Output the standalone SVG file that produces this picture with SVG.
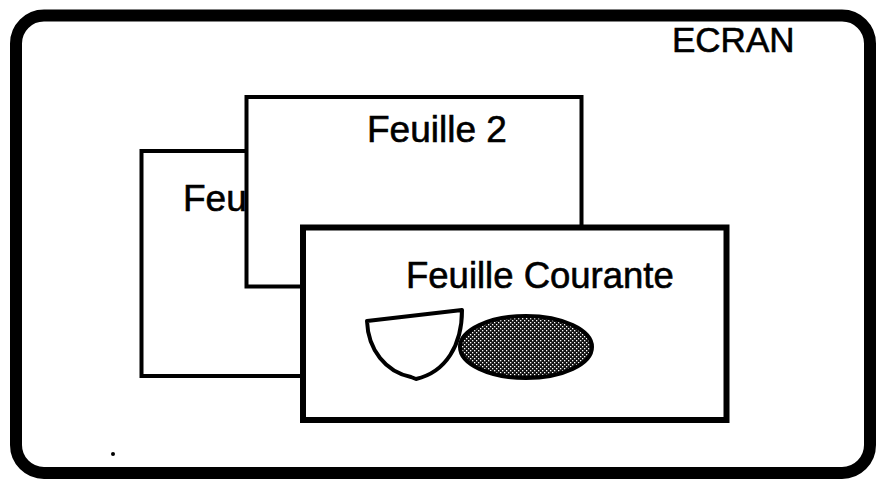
<svg xmlns="http://www.w3.org/2000/svg" width="876" height="479" viewBox="0 0 876 479">
  <style>
    .lbl { font-family: "Liberation Sans", Arial, sans-serif; fill: #000; stroke: #000; stroke-width: 0.6; }
    .sheet { fill: #fff; stroke: #000; }
  </style>
  <defs>
    <pattern id="dither" patternUnits="userSpaceOnUse" width="4" height="4">
      <rect width="4" height="4" fill="#111"/>
      <rect x="0" y="0" width="1.3" height="1.3" fill="#fff"/>
      <rect x="2" y="2" width="1.3" height="1.3" fill="#fff"/>
    </pattern>
  </defs>
  <rect width="876" height="479" fill="#fff"/>
  <g id="ecran">
    <rect x="16" y="15.5" width="854" height="457.5" rx="28" ry="28" fill="#fff" stroke="#000" stroke-width="12"/>
    <text class="lbl" x="672" y="52" font-size="35">ECRAN</text>
    <circle cx="113" cy="454" r="2" fill="#000"/>
  </g>
  <g id="feuille1">
    <rect class="sheet" x="141.5" y="151" width="310" height="225" stroke-width="4"/>
    <text class="lbl" x="183" y="211" font-size="37">Feu</text>
  </g>
  <g id="feuille2">
    <rect class="sheet" x="246.5" y="97" width="335" height="189.5" stroke-width="4"/>
    <text class="lbl" x="367" y="142" font-size="37">Feuille 2</text>
  </g>
  <g id="feuille-courante">
    <rect class="sheet" x="303" y="227.5" width="423.5" height="192.5" stroke-width="6"/>
    <text class="lbl" x="406" y="288" font-size="36.5">Feuille Courante</text>
    <path d="M367,321 L462,310 C462,345 446,372 416,379 L411,377 C386,372 368,350 367,321 Z" fill="#fff" stroke="#000" stroke-width="4" stroke-linejoin="round"/>
    <ellipse cx="526" cy="347" rx="66" ry="31" fill="url(#dither)" stroke="#000" stroke-width="4"/>
  </g>
  <g id="connectors"></g>
</svg>
